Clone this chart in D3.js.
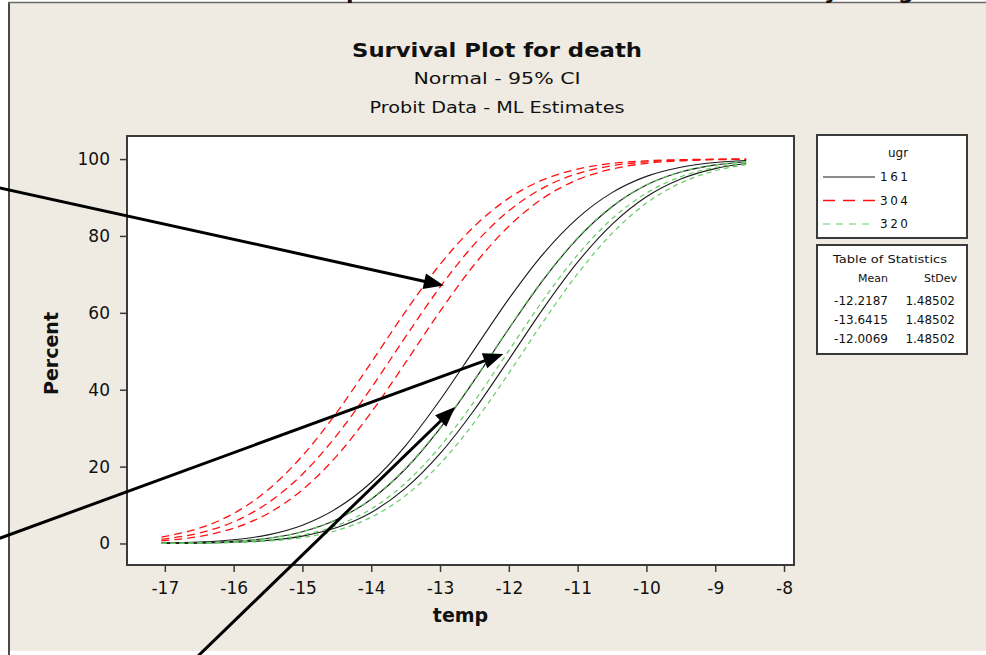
<!DOCTYPE html>
<html>
<head>
<meta charset="utf-8">
<script src="https://cdn.jsdelivr.net/npm/d3@7"></script>
<style>
  body { margin: 0; background: #fff; }
  text { font-family: "DejaVu Sans", sans-serif; fill: #111; }
</style>
</head>
<body>
<svg id="chart" width="986" height="655"></svg>
<script>
var temps = [-17.05, -16.5, -16, -15.5, -15, -14.5, -14, -13.5, -13, -12.5, -12, -11.5, -11, -10.5, -10, -9.5, -9, -8.55];

// ugr 161 (fit, lower and upper 95% band)
var fit161   = [0.06, 0.20, 0.55, 1.36, 3.06, 6.25, 11.52, 19.44, 29.96, 42.49, 55.85, 68.57, 79.39, 87.61, 93.24, 96.63, 98.48, 99.32];
var lower161 = [0.03, 0.10, 0.31, 0.80, 1.91, 4.13, 8.06, 14.38, 23.35, 34.78, 47.82, 61.10, 73.17, 83.00, 90.18, 94.81, 97.52, 98.83];
var upper161 = [0.11, 0.37, 0.96, 2.24, 4.76, 9.14, 15.93, 25.47, 37.31, 50.50, 63.64, 75.35, 84.65, 91.27, 95.50, 97.88, 99.10, 99.62];

// ugr 304
var fit304   = [1.09, 2.72, 5.62, 10.57, 18.03, 28.18, 40.47, 53.79, 66.70, 77.87, 86.54, 92.51, 96.23, 98.27, 99.28, 99.73, 99.91, 99.97];
var lower304 = [0.69, 1.82, 3.97, 7.80, 13.96, 22.80, 34.11, 47.09, 60.38, 72.58, 82.53, 89.84, 94.63, 97.41, 98.88, 99.55, 99.84, 99.94];
var upper304 = [1.68, 3.97, 7.80, 13.96, 22.80, 34.11, 47.09, 60.38, 72.58, 82.53, 89.84, 94.63, 97.41, 98.88, 99.55, 99.84, 99.95, 99.98];

// ugr 320
var fit320   = [0.03, 0.12, 0.36, 0.94, 2.20, 4.68, 9.00, 15.74, 25.21, 37.01, 50.18, 63.34, 75.09, 84.47, 91.14, 95.42, 97.84, 99.00];
var lower320 = [0.02, 0.08, 0.23, 0.62, 1.53, 3.40, 6.82, 12.47, 20.72, 31.56, 44.30, 57.67, 70.18, 80.66, 88.55, 93.80, 96.96, 98.53];
var upper320 = [0.06, 0.21, 0.56, 1.38, 3.10, 6.31, 11.63, 19.59, 30.14, 42.70, 56.06, 68.77, 79.54, 87.73, 93.31, 96.67, 98.50, 99.33];

var groups = ['161', '304', '320'];
var means = ['-12.2187', '-13.6415', '-12.0069'];
var stdevs = ['1.48502', '1.48502', '1.48502'];

var xTicks = [-17, -16, -15, -14, -13, -12, -11, -10, -9, -8];
var yTicks = [0, 20, 40, 60, 80, 100];

// annotation arrows, in data units (tail -> tip)
var arrowTails = [[-19.40, 92.5], [-19.40, 1.35], [-16.53, -29.5]];
var arrowTips  = [[-12.945, 67.1], [-12.08, 49.3], [-12.782, 35.5]];

var styles = {
  '161': { color: '#1a1a1a', dash: null, legendDash: null, width: 1.1 },
  '304': { color: '#ff1010', dash: '8,5', legendDash: '12,8', width: 1.3 },
  '320': { color: '#66cc66', dash: '5,4', legendDash: '7,6', width: 1.2 }
};

var svg = d3.select('#chart');

// window frame
svg.append('rect').attr('x', 10).attr('y', 3).attr('width', 976).attr('height', 648).attr('fill', '#efebe2');
svg.append('line').attr('x1', 9).attr('x2', 9).attr('y1', 2).attr('y2', 655)
  .attr('stroke', '#4a4a4a').attr('stroke-width', 2);
svg.append('line').attr('x1', 8).attr('x2', 986).attr('y1', 2.5).attr('y2', 2.5)
  .attr('stroke', '#6a6a6a').attr('stroke-width', 1.5);

// descenders of the caption cut off above the window
svg.selectAll('.cut').data([['p', 346], ['y', 824], ['g', 898]])
  .enter().append('text')
  .attr('x', function(d) { return d[1]; })
  .attr('y', -1)
  .style('font-size', '22px').style('font-weight', 'bold')
  .text(function(d) { return d[0]; });

var x = d3.scaleLinear().domain([-17.55, -7.855]).range([127, 794]),
    y = d3.scaleLinear().domain([-5.6, 106]).range([565, 136]);

// titles
var titles = [
  ['Survival Plot for death', 56.5, '20px', 'bold', 290],
  ['Normal - 95% CI', 84, '16px', 'normal', 167],
  ['Probit Data - ML Estimates', 113, '16px', 'normal', 255]
];
svg.selectAll('.title').data(titles)
  .enter().append('text')
  .attr('class', 'title')
  .attr('x', 497).attr('y', function(d) { return d[1]; })
  .attr('text-anchor', 'middle')
  .attr('textLength', function(d) { return d[4]; })
  .attr('lengthAdjust', 'spacingAndGlyphs')
  .style('font-size', function(d) { return d[2]; })
  .style('font-weight', function(d) { return d[3]; })
  .text(function(d) { return d[0]; });

// plot area
svg.append('rect')
  .attr('x', x.range()[0]).attr('y', y.range()[1])
  .attr('width', x.range()[1] - x.range()[0])
  .attr('height', y.range()[0] - y.range()[1])
  .attr('fill', '#fff');

svg.append('defs').append('clipPath').attr('id', 'clip')
  .append('rect')
  .attr('x', x.range()[0]).attr('y', y.range()[1])
  .attr('width', x.range()[1] - x.range()[0])
  .attr('height', y.range()[0] - y.range()[1]);

var line = d3.line()
  .x(function(d) { return x(d[0]); })
  .y(function(d) { return y(d[1]); })
  .curve(d3.curveMonotoneX);

var series = [
  ['161', fit161], ['161', lower161], ['161', upper161],
  ['320', fit320], ['320', lower320], ['320', upper320],
  ['304', fit304], ['304', lower304], ['304', upper304]
];

svg.append('g').attr('clip-path', 'url(#clip)')
  .selectAll('.curve').data(series)
  .enter().append('path')
  .attr('class', 'curve')
  .attr('fill', 'none')
  .attr('stroke', function(d) { return styles[d[0]].color; })
  .attr('stroke-width', function(d) { return styles[d[0]].width; })
  .attr('stroke-dasharray', function(d) { return styles[d[0]].dash; })
  .attr('d', function(d) { return line(d[1].map(function(v, i) { return [temps[i], v]; })); });

svg.append('rect')
  .attr('x', x.range()[0]).attr('y', y.range()[1])
  .attr('width', x.range()[1] - x.range()[0])
  .attr('height', y.range()[0] - y.range()[1])
  .attr('fill', 'none').attr('stroke', '#3a3a3a').attr('stroke-width', 2);

// axes
var xAxis = svg.append('g')
  .attr('transform', 'translate(0,' + y.range()[0] + ')')
  .call(d3.axisBottom(x).tickValues(xTicks).tickSize(7).tickPadding(10).tickFormat(String));
var yAxis = svg.append('g')
  .attr('transform', 'translate(' + x.range()[0] + ',0)')
  .call(d3.axisLeft(y).tickValues(yTicks).tickSize(7).tickPadding(10));
[xAxis, yAxis].forEach(function(g) {
  g.select('.domain').remove();
  g.selectAll('line').attr('stroke', '#3a3a3a').attr('stroke-width', 1.5);
  g.selectAll('text').attr('fill', '#222')
    .style('font-size', '17px').style('font-family', '"DejaVu Sans", sans-serif');
});

svg.append('text')
  .attr('x', (x.range()[0] + x.range()[1]) / 2).attr('y', 622)
  .attr('text-anchor', 'middle')
  .style('font-size', '19px').style('font-weight', 'bold')
  .text('temp');
svg.append('text')
  .attr('transform', 'translate(58,353.5) rotate(-90)')
  .attr('text-anchor', 'middle')
  .attr('textLength', 83).attr('lengthAdjust', 'spacingAndGlyphs')
  .style('font-size', '19px').style('font-weight', 'bold')
  .text('Percent');

// legend
var legend = svg.append('g');
legend.append('rect').attr('x', 817).attr('y', 135).attr('width', 150).attr('height', 103)
  .attr('fill', '#fff').attr('stroke', '#3a3a3a').attr('stroke-width', 2);
legend.append('text').attr('x', 898).attr('y', 157).attr('text-anchor', 'middle')
  .style('font-size', '12px').text('ugr');
var items = legend.selectAll('.item').data(groups)
  .enter().append('g')
  .attr('transform', function(d, i) { return 'translate(0,' + (177 + i * 23.5) + ')'; });
items.append('line')
  .attr('x1', 823).attr('x2', 875).attr('y1', 0).attr('y2', 0)
  .attr('stroke', function(d) { return styles[d].color; })
  .attr('stroke-width', function(d) { return styles[d].width; })
  .attr('stroke-dasharray', function(d) { return styles[d].legendDash; });
items.append('text')
  .attr('x', 880).attr('y', 4)
  .style('font-size', '12px').style('letter-spacing', '2.5px')
  .text(function(d) { return d; });

// table of statistics
var table = svg.append('g');
table.append('rect').attr('x', 817).attr('y', 245).attr('width', 150).attr('height', 109)
  .attr('fill', '#fff').attr('stroke', '#3a3a3a').attr('stroke-width', 2);
table.append('text').attr('x', 890).attr('y', 262.5).attr('text-anchor', 'middle')
  .attr('textLength', 114).attr('lengthAdjust', 'spacingAndGlyphs')
  .style('font-size', '11px').text('Table of Statistics');
table.append('text').attr('x', 888).attr('y', 281.5).attr('text-anchor', 'end')
  .style('font-size', '11px').text('Mean');
table.append('text').attr('x', 957).attr('y', 281.5).attr('text-anchor', 'end')
  .style('font-size', '11px').text('StDev');
var rows = table.selectAll('.row').data(groups)
  .enter().append('g')
  .attr('transform', function(d, i) { return 'translate(0,' + (305 + i * 19.2) + ')'; });
rows.append('text').attr('x', 888).attr('text-anchor', 'end')
  .style('font-size', '12px')
  .text(function(d, i) { return means[i]; });
rows.append('text').attr('x', 955).attr('text-anchor', 'end')
  .style('font-size', '12px')
  .text(function(d, i) { return stdevs[i]; });

// arrows pointing at the curves
var headLen = 20, headHalf = 8;
var arrows = svg.append('g').selectAll('.arrow')
  .data(arrowTips.map(function(tip, i) { return { tail: arrowTails[i], tip: tip }; }))
  .enter().append('g').attr('class', 'arrow');
arrows.each(function(d) {
  var x0 = x(d.tail[0]), y0 = y(d.tail[1]),
      x1 = x(d.tip[0]), y1 = y(d.tip[1]),
      len = Math.sqrt((x1 - x0) * (x1 - x0) + (y1 - y0) * (y1 - y0)),
      ux = (x1 - x0) / len, uy = (y1 - y0) / len,
      bx = x1 - ux * headLen, by = y1 - uy * headLen,
      g = d3.select(this);
  g.append('line')
    .attr('x1', x0).attr('y1', y0).attr('x2', bx + ux * 2).attr('y2', by + uy * 2)
    .attr('stroke', '#000').attr('stroke-width', 3);
  g.append('path')
    .attr('d', 'M' + x1 + ',' + y1 +
               'L' + (bx - uy * headHalf) + ',' + (by + ux * headHalf) +
               'L' + (bx + uy * headHalf) + ',' + (by - ux * headHalf) + 'Z')
    .attr('fill', '#000');
});
</script>
</body>
</html>
